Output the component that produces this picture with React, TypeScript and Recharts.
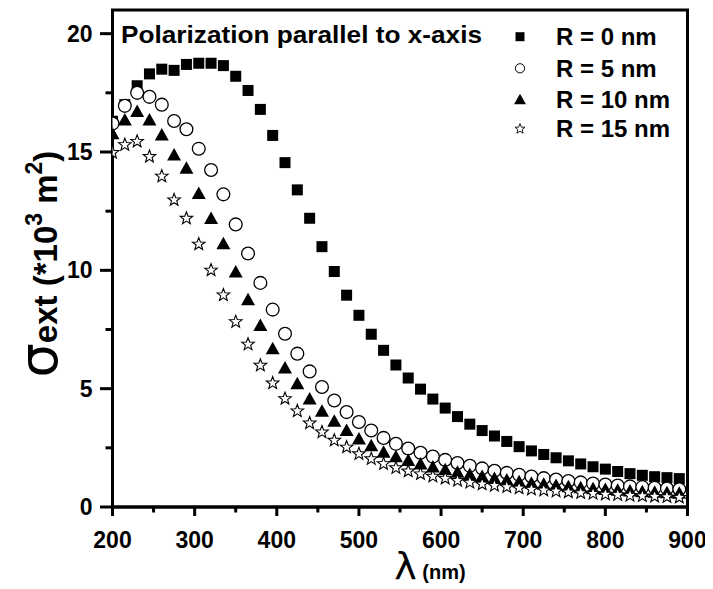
import React from 'react';
import { ScatterChart, Scatter, XAxis, YAxis, ReferenceArea } from 'recharts';

const WAVELENGTHS = [
  200, 215, 230, 245, 260, 275, 290, 305, 320, 335, 350, 365, 380, 395, 410, 425,
  440, 455, 470, 485, 500, 515, 530, 545, 560, 575, 590, 605, 620, 635, 650, 665,
  680, 695, 710, 725, 740, 755, 770, 785, 800, 815, 830, 845, 860, 875, 890,
];

const SIGMA_R0 = [
  16.3, 17.0, 17.8, 18.3, 18.5, 18.45, 18.7, 18.75, 18.75, 18.65, 18.2, 17.6, 16.8, 15.7, 14.55, 13.4,
  12.2, 11.0, 9.95, 8.95, 8.1, 7.3, 6.62, 6.0, 5.45, 4.98, 4.56, 4.18, 3.82, 3.5, 3.23, 3.0,
  2.77, 2.55, 2.37, 2.22, 2.08, 1.95, 1.82, 1.7, 1.6, 1.5, 1.41, 1.34, 1.28, 1.24, 1.2,
];

const SIGMA_R5 = [
  16.2, 16.95, 17.5, 17.33, 17.0, 16.31, 15.96, 15.14, 14.24, 13.21, 11.94, 10.71, 9.47, 8.34, 7.32, 6.48,
  5.73, 5.07, 4.5, 4.01, 3.59, 3.23, 2.92, 2.67, 2.47, 2.29, 2.13, 1.99, 1.86, 1.74, 1.63, 1.53,
  1.44, 1.36, 1.29, 1.22, 1.16, 1.1, 1.04, 0.99, 0.95, 0.91, 0.87, 0.84, 0.81, 0.78, 0.75,
];

const SIGMA_R10 = [
  15.8, 16.38, 16.74, 16.38, 15.75, 14.9, 14.34, 13.28, 12.22, 11.16, 9.96, 8.79, 7.7, 6.72, 5.91, 5.24,
  4.6, 4.08, 3.65, 3.26, 2.91, 2.62, 2.34, 2.16, 2.0, 1.85, 1.72, 1.61, 1.5, 1.41, 1.32, 1.24,
  1.17, 1.1, 1.04, 0.99, 0.94, 0.89, 0.84, 0.8, 0.77, 0.74, 0.71, 0.68, 0.66, 0.63, 0.61,
];

const SIGMA_R15 = [
  15.0, 15.33, 15.47, 14.83, 14.0, 13.0, 12.22, 11.13, 10.03, 8.98, 7.85, 6.9, 6.01, 5.26, 4.6, 4.08,
  3.57, 3.19, 2.84, 2.55, 2.27, 2.06, 1.85, 1.68, 1.54, 1.42, 1.32, 1.23, 1.14, 1.06, 0.99, 0.93,
  0.87, 0.82, 0.77, 0.73, 0.69, 0.65, 0.62, 0.59, 0.56, 0.54, 0.51, 0.49, 0.47, 0.45, 0.43,
];

const SERIES_NAMES = ['R = 0 nm', 'R = 5 nm', 'R = 10 nm', 'R = 15 nm'];
const X_TICKS = [200, 250, 300, 350, 400, 450, 500, 550, 600, 650, 700, 750, 800, 850, 900];
const Y_TICKS = [0, 2.5, 5, 7.5, 10, 12.5, 15, 17.5, 20];
const X_DOMAIN = [200, 900];
const Y_DOMAIN = [0, 21];

const toPoints = (ys: number[]) => WAVELENGTHS.map((x, i) => ({ x, y: ys[i] }));

const FONT = '"Liberation Sans", Arial, sans-serif';

const starPoints = (cx: number, cy: number, R: number, r: number) => {
  const pts: string[] = [];
  for (let i = 0; i < 10; i++) {
    const rad = i % 2 === 0 ? R : r;
    const a = -Math.PI / 2 + (i * Math.PI) / 5;
    pts.push(`${cx + rad * Math.cos(a)},${cy + rad * Math.sin(a)}`);
  }
  return pts.join(' ');
};

const Square = ({ cx, cy, s = 11 }: any) => (
  <rect x={cx - s / 2} y={cy - s / 2} width={s} height={s} fill="#000" />
);
const Circle = ({ cx, cy, r = 6.4, sw = 1.3 }: any) => (
  <circle cx={cx} cy={cy} r={r} fill="#fff" stroke="#000" strokeWidth={sw} />
);
const Triangle = ({ cx, cy, w = 14, h = 12.5 }: any) => (
  <polygon
    points={`${cx},${cy - h / 2} ${cx + w / 2},${cy + h / 2} ${cx - w / 2},${cy + h / 2}`}
    fill="#000"
  />
);
const Star = ({ cx, cy, R = 6.6, sw = 1.1 }: any) => (
  <polygon points={starPoints(cx, cy + 0.6, R, R * 0.42)} fill="#fff" stroke="#000" strokeWidth={sw} />
);

const SquareShape = (p: any) => <Square cx={p.cx} cy={p.cy} />;
const CircleShape = (p: any) => <Circle cx={p.cx} cy={p.cy} />;
const TriangleShape = (p: any) => <Triangle cx={p.cx} cy={p.cy} />;
const StarShape = (p: any) => <Star cx={p.cx} cy={p.cy} />;

const XTick = (props: any) => {
  const { x, y, payload } = props;
  const v = payload.value;
  const major = v % 100 === 0;
  return (
    <g>
      <line x1={x} x2={x} y1={y} y2={y + (major ? 9 : 5.5)} stroke="#000" strokeWidth={3} />
      {major && (
        <text x={x} y={y + 41} textAnchor="middle" fontFamily={FONT} fontWeight="bold" fontSize={23} fill="#000">
          {v}
        </text>
      )}
    </g>
  );
};

const YTick = (props: any) => {
  const { x, y, payload } = props;
  const v = payload.value;
  const major = v % 5 === 0;
  return (
    <g>
      <line x1={x} x2={x - (major ? 12.5 : 7)} y1={y} y2={y} stroke="#000" strokeWidth={3} />
      {major && (
        <text x={x - 20} y={y + 8} textAnchor="end" fontFamily={FONT} fontWeight="bold" fontSize={23} fill="#000">
          {v}
        </text>
      )}
    </g>
  );
};

const W = 705;
const H = 581;

export default function App() {
  const legendIcons = [
    <Square cx={512} cy={28.7} s={9} />,
    <Circle cx={512} cy={60.3} r={4.6} sw={1} />,
    <Triangle cx={512} cy={91} w={12} h={10.5} />,
    <Star cx={512} cy={120.3} R={5.3} sw={0.9} />,
  ];
  const legendRows = [28.7, 60.3, 91, 120.3];
  return (
    <div style={{ position: 'relative', width: W, height: H }}>
      <ScatterChart width={W} height={H} margin={{ top: 2, right: 25.5, left: 0, bottom: 0 }}>
        <XAxis
          type="number"
          dataKey="x"
          domain={X_DOMAIN}
          ticks={X_TICKS}
          interval={0}
          allowDataOverflow
          height={82}
          tickSize={0}
          tickMargin={0}
          tickLine={false}
          tick={<XTick />}
          axisLine={{ stroke: '#000', strokeWidth: 3 }}
        />
        <YAxis
          type="number"
          dataKey="y"
          domain={Y_DOMAIN}
          ticks={Y_TICKS}
          interval={0}
          allowDataOverflow
          width={104.5}
          tickSize={0}
          tickMargin={0}
          tickLine={false}
          tick={<YTick />}
          axisLine={{ stroke: '#000', strokeWidth: 3 }}
        />
        <ReferenceArea x1={200} x2={900} y1={0} y2={21} fill="none" stroke="#000" strokeWidth={3} />
        <Scatter name={SERIES_NAMES[0]} data={toPoints(SIGMA_R0)} shape={SquareShape} isAnimationActive={false} />
        <Scatter name={SERIES_NAMES[1]} data={toPoints(SIGMA_R5)} shape={CircleShape} isAnimationActive={false} />
        <Scatter name={SERIES_NAMES[2]} data={toPoints(SIGMA_R10)} shape={TriangleShape} isAnimationActive={false} />
        <Scatter name={SERIES_NAMES[3]} data={toPoints(SIGMA_R15)} shape={StarShape} isAnimationActive={false} />
      </ScatterChart>
      <svg
        width={W}
        height={H}
        style={{ position: 'absolute', left: 0, top: 0, pointerEvents: 'none' }}
      >
        <text x={113} y={35} fontFamily={FONT} fontWeight="bold" fontSize={24} fill="#000" textLength={361} lengthAdjust="spacingAndGlyphs">
          Polarization parallel to x-axis
        </text>
        {legendIcons.map((ic, i) => (
          <g key={i}>
            {ic}
            <text x={548} y={legendRows[i] + 8.6} fontFamily={FONT} fontWeight="bold" fontSize={24} fill="#000">
              {SERIES_NAMES[i]}
            </text>
          </g>
        ))}
        <text transform="translate(49,256) rotate(-90)" textAnchor="middle" fill="#000" fontFamily={FONT} fontWeight="bold">
          <tspan fontFamily='"DejaVu Sans", sans-serif' fontWeight="normal" fontSize={54}>σ</tspan>
          <tspan fontSize={33}>ext (*10</tspan>
          <tspan fontSize={23} dy={-15}>3</tspan>
          <tspan fontSize={33} dy={15}> m</tspan>
          <tspan fontSize={23} dy={-15}>2</tspan>
          <tspan fontSize={33} dy={15}>)</tspan>
        </text>
        <text x={422} y={571} textAnchor="middle" fill="#000">
          <tspan fontFamily='"DejaVu Sans", sans-serif' fontSize={38}>λ</tspan>
          <tspan fontFamily={FONT} fontWeight="bold" fontSize={20}> (nm)</tspan>
        </text>
      </svg>
    </div>
  );
}
